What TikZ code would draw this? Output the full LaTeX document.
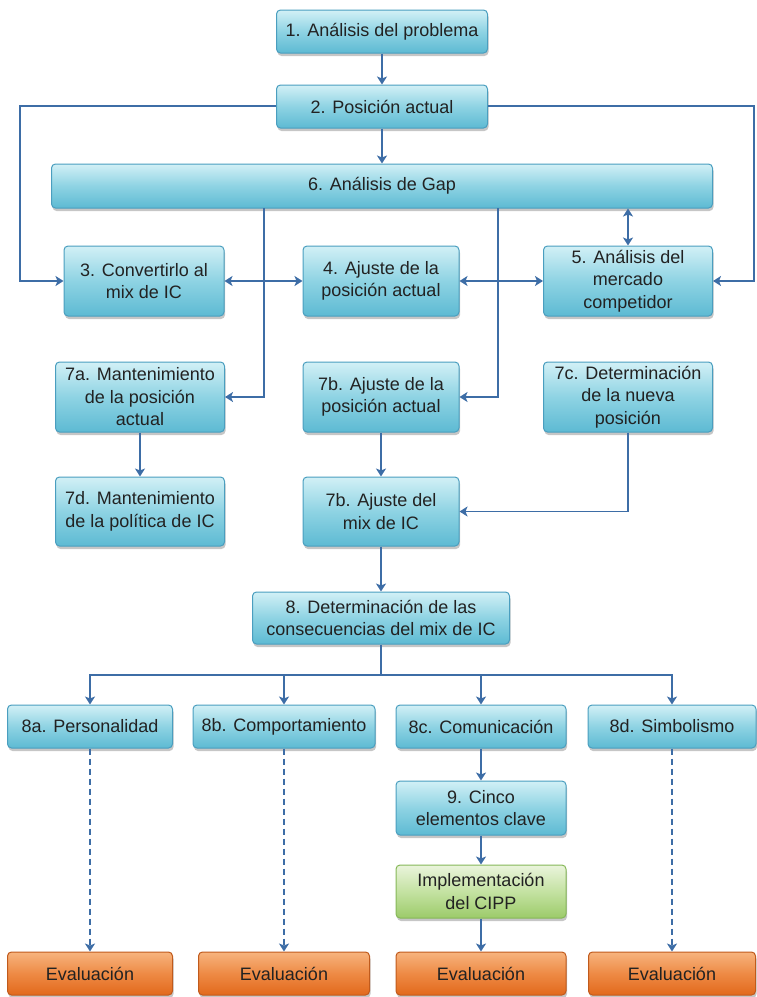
\documentclass[tikz,border=0pt]{standalone}
\usepackage{fontspec}
\setmainfont{Liberation Sans}
\usetikzlibrary{arrows.meta,shadows,calc}
\definecolor{bluetop}{HTML}{D2F0F6}
\definecolor{bluemid}{HTML}{8ED3E3}
\definecolor{bluebot}{HTML}{5DBAD3}
\definecolor{bluebdr}{HTML}{4A9EBF}
\definecolor{greentop}{HTML}{EAF4DC}
\definecolor{greenmid}{HTML}{C4E2A2}
\definecolor{greenbot}{HTML}{9CCB6A}
\definecolor{greenbdr}{HTML}{86B858}
\definecolor{orangetop}{HTML}{F7B47E}
\definecolor{orangemid}{HTML}{EE8A45}
\definecolor{orangebot}{HTML}{E2691C}
\definecolor{orangebdr}{HTML}{C05A1C}
\definecolor{linec}{HTML}{3D6DA6}
\definecolor{txt}{HTML}{222222}
\begin{document}
\begin{tikzpicture}[x=1pt,y=-1pt,
  basebox/.style={line width=1pt, rounded corners=4pt, inner sep=2pt, align=center,
    font=\fontsize{18}{22.5}\selectfont, text=txt,
    drop shadow={shadow xshift=1pt, shadow yshift=-3pt, opacity=0.45}},
  bluebox/.style={basebox, draw=bluebdr, top color=bluetop, bottom color=bluebot, middle color=bluemid},
  greenbox/.style={basebox, draw=greenbdr, top color=greentop, bottom color=greenbot, middle color=greenmid},
  orangebox/.style={basebox, draw=orangebdr, top color=orangetop, bottom color=orangebot, middle color=orangemid},
  conn/.style={draw=linec, line width=1.8pt},
  arr/.style={conn, -{Stealth[length=8pt,width=10pt,inset=2pt]}},
  darr/.style={conn, {Stealth[length=8pt,width=10pt,inset=2pt]}-{Stealth[length=8pt,width=10pt,inset=2pt]}},
  dasharr/.style={arr, dash pattern=on 6pt off 4pt}
]
\useasboundingbox (0,0) rectangle (756,997);

% row 1-2
\node[bluebox, minimum width=211pt, minimum height=43pt] (b1) at (382,31.5) {1. Análisis del problema};
\node[bluebox, minimum width=211pt, minimum height=43pt] (b2) at (382,106.5) {2. Posición actual};
\node[bluebox, minimum width=661pt, minimum height=44pt] (b6) at (382,186) {6. Análisis de Gap};

% row 3-5
\node[bluebox, minimum width=160pt, minimum height=70pt] (b3) at (144,281) {3. Convertirlo al\\mix de IC};
\node[bluebox, minimum width=156pt, minimum height=70pt] (b4) at (381,281) {4. Ajuste de la\\posición actual};
\node[bluebox, minimum width=169pt, minimum height=70pt] (b5) at (628,281) {5. Análisis del\\mercado\\competidor};

% row 7
\node[bluebox, minimum width=169pt, minimum height=70pt] (b7a) at (140,397) {7a. Mantenimiento\\de la posición\\actual};
\node[bluebox, minimum width=156pt, minimum height=70pt] (b7b) at (381,397) {7b. Ajuste de la\\posición actual};
\node[bluebox, minimum width=169pt, minimum height=70pt] (b7c) at (628,397) {7c. Determinación\\de la nueva\\posición};
\node[bluebox, minimum width=169pt, minimum height=69pt] (b7d) at (140,511.5) {7d. Mantenimiento\\de la política de IC};
\node[bluebox, minimum width=156pt, minimum height=69pt] (b7e) at (381,511.5) {7b. Ajuste del\\mix de IC};

% row 8
\node[bluebox, minimum width=257pt, minimum height=52pt] (b8) at (381,618) {8. Determinación de las\\consecuencias del mix de IC};
\node[bluebox, minimum width=165pt, minimum height=43pt] (b8a) at (90,726.5) {8a. Personalidad};
\node[bluebox, minimum width=182pt, minimum height=43pt] (b8b) at (284,726.5) {8b. Comportamiento};
\node[bluebox, minimum width=170pt, minimum height=43pt] (b8c) at (481,726.5) {8c. Comunicación};
\node[bluebox, minimum width=168pt, minimum height=43pt] (b8d) at (672,726.5) {8d. Simbolismo};

\node[bluebox, minimum width=170pt, minimum height=54pt] (b9) at (481,808) {9. Cinco\\elementos clave};
\node[greenbox, minimum width=170pt, minimum height=53pt] (bimp) at (481,891.5) {Implementación\\del CIPP};

\node[orangebox, minimum width=165pt, minimum height=43pt] (e1) at (90,973.5) {Evaluación};
\node[orangebox, minimum width=171pt, minimum height=43pt] (e2) at (284,973.5) {Evaluación};
\node[orangebox, minimum width=170pt, minimum height=43pt] (e3) at (481,973.5) {Evaluación};
\node[orangebox, minimum width=167pt, minimum height=43pt] (e4) at (672,973.5) {Evaluación};

% connectors
\draw[arr] (b1) -- (b2);
\draw[arr] (b2) -- (b6);
\coordinate (lft) at (20,106);
\coordinate (rgt) at (754,106);
\draw[arr] (b2.west |- lft) -- (lft) |- (b3.west);
\draw[arr] (b2.east |- rgt) -- (rgt) |- (b5.east);
\draw[darr] (b6.south -| b5.north) -- (b5.north);
\draw[darr] (b3.east) -- (b4.west);
\draw[darr] (b4.east) -- (b5.west);
\coordinate (v1) at (264,208);
\coordinate (v2) at (498,208);
\draw[arr] (v1) |- (b7a.east);
\draw[arr] (v2) |- (b7b.east);
\draw[arr] (b7a) -- (b7d);
\draw[arr] (b7b) -- (b7e);
\draw[arr] (b7c.south) |- (b7e.east);
\draw[arr] (b7e) -- (b8);
\coordinate (j) at (381,675);
\draw[conn] (b8.south) -- (j);
\draw[arr] (j) -| (b8a.north);
\draw[arr] (j) -| (b8b.north);
\draw[arr] (j) -| (b8c.north);
\draw[arr] (j) -| (b8d.north);
\draw[dasharr] (b8a) -- (e1);
\draw[dasharr] (b8b) -- (e2);
\draw[dasharr] (b8d) -- (e4);
\draw[arr] (b8c) -- (b9);
\draw[arr] (b9) -- (bimp);
\draw[arr] (bimp) -- (e3);
\end{tikzpicture}
\end{document}
